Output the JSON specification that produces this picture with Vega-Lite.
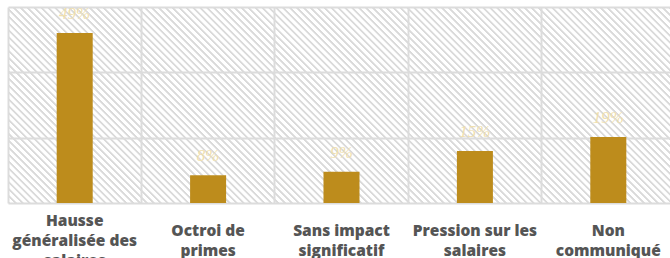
{
  "$schema": "https://vega.github.io/schema/vega-lite/v6.json",
  "width": 667,
  "height": 196,
  "autosize": {"type": "none"},
  "padding": {"left": 8, "top": 7, "right": 0, "bottom": 55},
  "background": "#ffffff",
  "config": {
    "view": {"stroke": null, "fill": {"gradient": "linear", "x1": 0, "y1": 1, "x2": 1.191, "y2": 0.65, "stops": [
{"offset":0,"color":"#dadada"},{"offset":0.002,"color":"#dadada"},{"offset":0.003,"color":"#ffffff"},{"offset":0.007,"color":"#ffffff"},
{"offset":0.008,"color":"#dadada"},{"offset":0.010,"color":"#dadada"},{"offset":0.011,"color":"#ffffff"},{"offset":0.015,"color":"#ffffff"},
{"offset":0.016,"color":"#dadada"},{"offset":0.018,"color":"#dadada"},{"offset":0.019,"color":"#ffffff"},{"offset":0.023,"color":"#ffffff"},
{"offset":0.024,"color":"#dadada"},{"offset":0.026,"color":"#dadada"},{"offset":0.027,"color":"#ffffff"},{"offset":0.031,"color":"#ffffff"},
{"offset":0.032,"color":"#dadada"},{"offset":0.034,"color":"#dadada"},{"offset":0.035,"color":"#ffffff"},{"offset":0.039,"color":"#ffffff"},
{"offset":0.040,"color":"#dadada"},{"offset":0.042,"color":"#dadada"},{"offset":0.043,"color":"#ffffff"},{"offset":0.047,"color":"#ffffff"},
{"offset":0.048,"color":"#dadada"},{"offset":0.050,"color":"#dadada"},{"offset":0.051,"color":"#ffffff"},{"offset":0.055,"color":"#ffffff"},
{"offset":0.056,"color":"#dadada"},{"offset":0.058,"color":"#dadada"},{"offset":0.059,"color":"#ffffff"},{"offset":0.063,"color":"#ffffff"},
{"offset":0.064,"color":"#dadada"},{"offset":0.066,"color":"#dadada"},{"offset":0.067,"color":"#ffffff"},{"offset":0.071,"color":"#ffffff"},
{"offset":0.072,"color":"#dadada"},{"offset":0.074,"color":"#dadada"},{"offset":0.075,"color":"#ffffff"},{"offset":0.079,"color":"#ffffff"},
{"offset":0.080,"color":"#dadada"},{"offset":0.082,"color":"#dadada"},{"offset":0.083,"color":"#ffffff"},{"offset":0.087,"color":"#ffffff"},
{"offset":0.088,"color":"#dadada"},{"offset":0.090,"color":"#dadada"},{"offset":0.091,"color":"#ffffff"},{"offset":0.095,"color":"#ffffff"},
{"offset":0.096,"color":"#dadada"},{"offset":0.098,"color":"#dadada"},{"offset":0.099,"color":"#ffffff"},{"offset":0.103,"color":"#ffffff"},
{"offset":0.104,"color":"#dadada"},{"offset":0.106,"color":"#dadada"},{"offset":0.107,"color":"#ffffff"},{"offset":0.111,"color":"#ffffff"},
{"offset":0.112,"color":"#dadada"},{"offset":0.114,"color":"#dadada"},{"offset":0.115,"color":"#ffffff"},{"offset":0.119,"color":"#ffffff"},
{"offset":0.120,"color":"#dadada"},{"offset":0.122,"color":"#dadada"},{"offset":0.123,"color":"#ffffff"},{"offset":0.127,"color":"#ffffff"},
{"offset":0.128,"color":"#dadada"},{"offset":0.130,"color":"#dadada"},{"offset":0.131,"color":"#ffffff"},{"offset":0.135,"color":"#ffffff"},
{"offset":0.136,"color":"#dadada"},{"offset":0.138,"color":"#dadada"},{"offset":0.139,"color":"#ffffff"},{"offset":0.143,"color":"#ffffff"},
{"offset":0.144,"color":"#dadada"},{"offset":0.146,"color":"#dadada"},{"offset":0.147,"color":"#ffffff"},{"offset":0.151,"color":"#ffffff"},
{"offset":0.152,"color":"#dadada"},{"offset":0.154,"color":"#dadada"},{"offset":0.155,"color":"#ffffff"},{"offset":0.159,"color":"#ffffff"},
{"offset":0.160,"color":"#dadada"},{"offset":0.162,"color":"#dadada"},{"offset":0.163,"color":"#ffffff"},{"offset":0.167,"color":"#ffffff"},
{"offset":0.168,"color":"#dadada"},{"offset":0.170,"color":"#dadada"},{"offset":0.171,"color":"#ffffff"},{"offset":0.175,"color":"#ffffff"},
{"offset":0.176,"color":"#dadada"},{"offset":0.178,"color":"#dadada"},{"offset":0.179,"color":"#ffffff"},{"offset":0.183,"color":"#ffffff"},
{"offset":0.184,"color":"#dadada"},{"offset":0.186,"color":"#dadada"},{"offset":0.187,"color":"#ffffff"},{"offset":0.191,"color":"#ffffff"},
{"offset":0.192,"color":"#dadada"},{"offset":0.194,"color":"#dadada"},{"offset":0.195,"color":"#ffffff"},{"offset":0.199,"color":"#ffffff"},
{"offset":0.200,"color":"#dadada"},{"offset":0.202,"color":"#dadada"},{"offset":0.203,"color":"#ffffff"},{"offset":0.207,"color":"#ffffff"},
{"offset":0.208,"color":"#dadada"},{"offset":0.210,"color":"#dadada"},{"offset":0.211,"color":"#ffffff"},{"offset":0.215,"color":"#ffffff"},
{"offset":0.216,"color":"#dadada"},{"offset":0.218,"color":"#dadada"},{"offset":0.219,"color":"#ffffff"},{"offset":0.223,"color":"#ffffff"},
{"offset":0.224,"color":"#dadada"},{"offset":0.226,"color":"#dadada"},{"offset":0.227,"color":"#ffffff"},{"offset":0.231,"color":"#ffffff"},
{"offset":0.232,"color":"#dadada"},{"offset":0.234,"color":"#dadada"},{"offset":0.235,"color":"#ffffff"},{"offset":0.239,"color":"#ffffff"},
{"offset":0.240,"color":"#dadada"},{"offset":0.242,"color":"#dadada"},{"offset":0.243,"color":"#ffffff"},{"offset":0.247,"color":"#ffffff"},
{"offset":0.248,"color":"#dadada"},{"offset":0.250,"color":"#dadada"},{"offset":0.251,"color":"#ffffff"},{"offset":0.255,"color":"#ffffff"},
{"offset":0.256,"color":"#dadada"},{"offset":0.258,"color":"#dadada"},{"offset":0.259,"color":"#ffffff"},{"offset":0.263,"color":"#ffffff"},
{"offset":0.264,"color":"#dadada"},{"offset":0.266,"color":"#dadada"},{"offset":0.267,"color":"#ffffff"},{"offset":0.271,"color":"#ffffff"},
{"offset":0.272,"color":"#dadada"},{"offset":0.274,"color":"#dadada"},{"offset":0.275,"color":"#ffffff"},{"offset":0.279,"color":"#ffffff"},
{"offset":0.280,"color":"#dadada"},{"offset":0.282,"color":"#dadada"},{"offset":0.283,"color":"#ffffff"},{"offset":0.287,"color":"#ffffff"},
{"offset":0.288,"color":"#dadada"},{"offset":0.290,"color":"#dadada"},{"offset":0.291,"color":"#ffffff"},{"offset":0.295,"color":"#ffffff"},
{"offset":0.296,"color":"#dadada"},{"offset":0.298,"color":"#dadada"},{"offset":0.299,"color":"#ffffff"},{"offset":0.303,"color":"#ffffff"},
{"offset":0.304,"color":"#dadada"},{"offset":0.306,"color":"#dadada"},{"offset":0.307,"color":"#ffffff"},{"offset":0.311,"color":"#ffffff"},
{"offset":0.312,"color":"#dadada"},{"offset":0.314,"color":"#dadada"},{"offset":0.315,"color":"#ffffff"},{"offset":0.319,"color":"#ffffff"},
{"offset":0.320,"color":"#dadada"},{"offset":0.322,"color":"#dadada"},{"offset":0.323,"color":"#ffffff"},{"offset":0.327,"color":"#ffffff"},
{"offset":0.328,"color":"#dadada"},{"offset":0.330,"color":"#dadada"},{"offset":0.331,"color":"#ffffff"},{"offset":0.335,"color":"#ffffff"},
{"offset":0.336,"color":"#dadada"},{"offset":0.338,"color":"#dadada"},{"offset":0.339,"color":"#ffffff"},{"offset":0.343,"color":"#ffffff"},
{"offset":0.344,"color":"#dadada"},{"offset":0.346,"color":"#dadada"},{"offset":0.347,"color":"#ffffff"},{"offset":0.351,"color":"#ffffff"},
{"offset":0.352,"color":"#dadada"},{"offset":0.354,"color":"#dadada"},{"offset":0.355,"color":"#ffffff"},{"offset":0.359,"color":"#ffffff"},
{"offset":0.360,"color":"#dadada"},{"offset":0.362,"color":"#dadada"},{"offset":0.363,"color":"#ffffff"},{"offset":0.367,"color":"#ffffff"},
{"offset":0.368,"color":"#dadada"},{"offset":0.370,"color":"#dadada"},{"offset":0.371,"color":"#ffffff"},{"offset":0.375,"color":"#ffffff"},
{"offset":0.376,"color":"#dadada"},{"offset":0.378,"color":"#dadada"},{"offset":0.379,"color":"#ffffff"},{"offset":0.383,"color":"#ffffff"},
{"offset":0.384,"color":"#dadada"},{"offset":0.386,"color":"#dadada"},{"offset":0.387,"color":"#ffffff"},{"offset":0.391,"color":"#ffffff"},
{"offset":0.392,"color":"#dadada"},{"offset":0.394,"color":"#dadada"},{"offset":0.395,"color":"#ffffff"},{"offset":0.399,"color":"#ffffff"},
{"offset":0.400,"color":"#dadada"},{"offset":0.402,"color":"#dadada"},{"offset":0.403,"color":"#ffffff"},{"offset":0.407,"color":"#ffffff"},
{"offset":0.408,"color":"#dadada"},{"offset":0.410,"color":"#dadada"},{"offset":0.411,"color":"#ffffff"},{"offset":0.415,"color":"#ffffff"},
{"offset":0.416,"color":"#dadada"},{"offset":0.418,"color":"#dadada"},{"offset":0.419,"color":"#ffffff"},{"offset":0.423,"color":"#ffffff"},
{"offset":0.424,"color":"#dadada"},{"offset":0.426,"color":"#dadada"},{"offset":0.427,"color":"#ffffff"},{"offset":0.431,"color":"#ffffff"},
{"offset":0.432,"color":"#dadada"},{"offset":0.434,"color":"#dadada"},{"offset":0.435,"color":"#ffffff"},{"offset":0.439,"color":"#ffffff"},
{"offset":0.440,"color":"#dadada"},{"offset":0.442,"color":"#dadada"},{"offset":0.443,"color":"#ffffff"},{"offset":0.447,"color":"#ffffff"},
{"offset":0.448,"color":"#dadada"},{"offset":0.450,"color":"#dadada"},{"offset":0.451,"color":"#ffffff"},{"offset":0.455,"color":"#ffffff"},
{"offset":0.456,"color":"#dadada"},{"offset":0.458,"color":"#dadada"},{"offset":0.459,"color":"#ffffff"},{"offset":0.463,"color":"#ffffff"},
{"offset":0.464,"color":"#dadada"},{"offset":0.466,"color":"#dadada"},{"offset":0.467,"color":"#ffffff"},{"offset":0.471,"color":"#ffffff"},
{"offset":0.472,"color":"#dadada"},{"offset":0.474,"color":"#dadada"},{"offset":0.475,"color":"#ffffff"},{"offset":0.479,"color":"#ffffff"},
{"offset":0.480,"color":"#dadada"},{"offset":0.482,"color":"#dadada"},{"offset":0.483,"color":"#ffffff"},{"offset":0.487,"color":"#ffffff"},
{"offset":0.488,"color":"#dadada"},{"offset":0.490,"color":"#dadada"},{"offset":0.491,"color":"#ffffff"},{"offset":0.495,"color":"#ffffff"},
{"offset":0.496,"color":"#dadada"},{"offset":0.498,"color":"#dadada"},{"offset":0.499,"color":"#ffffff"},{"offset":0.503,"color":"#ffffff"},
{"offset":0.504,"color":"#dadada"},{"offset":0.506,"color":"#dadada"},{"offset":0.507,"color":"#ffffff"},{"offset":0.511,"color":"#ffffff"},
{"offset":0.512,"color":"#dadada"},{"offset":0.514,"color":"#dadada"},{"offset":0.515,"color":"#ffffff"},{"offset":0.519,"color":"#ffffff"},
{"offset":0.520,"color":"#dadada"},{"offset":0.522,"color":"#dadada"},{"offset":0.523,"color":"#ffffff"},{"offset":0.527,"color":"#ffffff"},
{"offset":0.528,"color":"#dadada"},{"offset":0.530,"color":"#dadada"},{"offset":0.531,"color":"#ffffff"},{"offset":0.535,"color":"#ffffff"},
{"offset":0.536,"color":"#dadada"},{"offset":0.538,"color":"#dadada"},{"offset":0.539,"color":"#ffffff"},{"offset":0.543,"color":"#ffffff"},
{"offset":0.544,"color":"#dadada"},{"offset":0.546,"color":"#dadada"},{"offset":0.547,"color":"#ffffff"},{"offset":0.551,"color":"#ffffff"},
{"offset":0.552,"color":"#dadada"},{"offset":0.554,"color":"#dadada"},{"offset":0.555,"color":"#ffffff"},{"offset":0.559,"color":"#ffffff"},
{"offset":0.560,"color":"#dadada"},{"offset":0.562,"color":"#dadada"},{"offset":0.563,"color":"#ffffff"},{"offset":0.567,"color":"#ffffff"},
{"offset":0.568,"color":"#dadada"},{"offset":0.570,"color":"#dadada"},{"offset":0.571,"color":"#ffffff"},{"offset":0.575,"color":"#ffffff"},
{"offset":0.576,"color":"#dadada"},{"offset":0.578,"color":"#dadada"},{"offset":0.579,"color":"#ffffff"},{"offset":0.583,"color":"#ffffff"},
{"offset":0.584,"color":"#dadada"},{"offset":0.586,"color":"#dadada"},{"offset":0.587,"color":"#ffffff"},{"offset":0.591,"color":"#ffffff"},
{"offset":0.592,"color":"#dadada"},{"offset":0.594,"color":"#dadada"},{"offset":0.595,"color":"#ffffff"},{"offset":0.599,"color":"#ffffff"},
{"offset":0.600,"color":"#dadada"},{"offset":0.602,"color":"#dadada"},{"offset":0.603,"color":"#ffffff"},{"offset":0.607,"color":"#ffffff"},
{"offset":0.608,"color":"#dadada"},{"offset":0.610,"color":"#dadada"},{"offset":0.611,"color":"#ffffff"},{"offset":0.615,"color":"#ffffff"},
{"offset":0.616,"color":"#dadada"},{"offset":0.618,"color":"#dadada"},{"offset":0.619,"color":"#ffffff"},{"offset":0.623,"color":"#ffffff"},
{"offset":0.624,"color":"#dadada"},{"offset":0.626,"color":"#dadada"},{"offset":0.627,"color":"#ffffff"},{"offset":0.631,"color":"#ffffff"},
{"offset":0.632,"color":"#dadada"},{"offset":0.634,"color":"#dadada"},{"offset":0.635,"color":"#ffffff"},{"offset":0.639,"color":"#ffffff"},
{"offset":0.640,"color":"#dadada"},{"offset":0.642,"color":"#dadada"},{"offset":0.643,"color":"#ffffff"},{"offset":0.647,"color":"#ffffff"},
{"offset":0.648,"color":"#dadada"},{"offset":0.650,"color":"#dadada"},{"offset":0.651,"color":"#ffffff"},{"offset":0.655,"color":"#ffffff"},
{"offset":0.656,"color":"#dadada"},{"offset":0.658,"color":"#dadada"},{"offset":0.659,"color":"#ffffff"},{"offset":0.663,"color":"#ffffff"},
{"offset":0.664,"color":"#dadada"},{"offset":0.666,"color":"#dadada"},{"offset":0.667,"color":"#ffffff"},{"offset":0.671,"color":"#ffffff"},
{"offset":0.672,"color":"#dadada"},{"offset":0.674,"color":"#dadada"},{"offset":0.675,"color":"#ffffff"},{"offset":0.679,"color":"#ffffff"},
{"offset":0.680,"color":"#dadada"},{"offset":0.682,"color":"#dadada"},{"offset":0.683,"color":"#ffffff"},{"offset":0.687,"color":"#ffffff"},
{"offset":0.688,"color":"#dadada"},{"offset":0.690,"color":"#dadada"},{"offset":0.691,"color":"#ffffff"},{"offset":0.695,"color":"#ffffff"},
{"offset":0.696,"color":"#dadada"},{"offset":0.698,"color":"#dadada"},{"offset":0.699,"color":"#ffffff"},{"offset":0.703,"color":"#ffffff"},
{"offset":0.704,"color":"#dadada"},{"offset":0.706,"color":"#dadada"},{"offset":0.707,"color":"#ffffff"},{"offset":0.711,"color":"#ffffff"},
{"offset":0.712,"color":"#dadada"},{"offset":0.714,"color":"#dadada"},{"offset":0.715,"color":"#ffffff"},{"offset":0.719,"color":"#ffffff"},
{"offset":0.720,"color":"#dadada"},{"offset":0.722,"color":"#dadada"},{"offset":0.723,"color":"#ffffff"},{"offset":0.727,"color":"#ffffff"},
{"offset":0.728,"color":"#dadada"},{"offset":0.730,"color":"#dadada"},{"offset":0.731,"color":"#ffffff"},{"offset":0.735,"color":"#ffffff"},
{"offset":0.736,"color":"#dadada"},{"offset":0.738,"color":"#dadada"},{"offset":0.739,"color":"#ffffff"},{"offset":0.743,"color":"#ffffff"},
{"offset":0.744,"color":"#dadada"},{"offset":0.746,"color":"#dadada"},{"offset":0.747,"color":"#ffffff"},{"offset":0.751,"color":"#ffffff"},
{"offset":0.752,"color":"#dadada"},{"offset":0.754,"color":"#dadada"},{"offset":0.755,"color":"#ffffff"},{"offset":0.759,"color":"#ffffff"},
{"offset":0.760,"color":"#dadada"},{"offset":0.762,"color":"#dadada"},{"offset":0.763,"color":"#ffffff"},{"offset":0.767,"color":"#ffffff"},
{"offset":0.768,"color":"#dadada"},{"offset":0.770,"color":"#dadada"},{"offset":0.771,"color":"#ffffff"},{"offset":0.775,"color":"#ffffff"},
{"offset":0.776,"color":"#dadada"},{"offset":0.778,"color":"#dadada"},{"offset":0.779,"color":"#ffffff"},{"offset":0.783,"color":"#ffffff"},
{"offset":0.784,"color":"#dadada"},{"offset":0.786,"color":"#dadada"},{"offset":0.787,"color":"#ffffff"},{"offset":0.791,"color":"#ffffff"},
{"offset":0.792,"color":"#dadada"},{"offset":0.794,"color":"#dadada"},{"offset":0.795,"color":"#ffffff"},{"offset":0.799,"color":"#ffffff"},
{"offset":0.800,"color":"#dadada"},{"offset":0.802,"color":"#dadada"},{"offset":0.803,"color":"#ffffff"},{"offset":0.807,"color":"#ffffff"},
{"offset":0.808,"color":"#dadada"},{"offset":0.810,"color":"#dadada"},{"offset":0.811,"color":"#ffffff"},{"offset":0.815,"color":"#ffffff"},
{"offset":0.816,"color":"#dadada"},{"offset":0.818,"color":"#dadada"},{"offset":0.819,"color":"#ffffff"},{"offset":0.823,"color":"#ffffff"},
{"offset":0.824,"color":"#dadada"},{"offset":0.826,"color":"#dadada"},{"offset":0.827,"color":"#ffffff"},{"offset":0.831,"color":"#ffffff"},
{"offset":0.832,"color":"#dadada"},{"offset":0.834,"color":"#dadada"},{"offset":0.835,"color":"#ffffff"},{"offset":0.839,"color":"#ffffff"},
{"offset":0.840,"color":"#dadada"},{"offset":0.842,"color":"#dadada"},{"offset":0.843,"color":"#ffffff"},{"offset":0.847,"color":"#ffffff"},
{"offset":0.848,"color":"#dadada"},{"offset":0.850,"color":"#dadada"},{"offset":0.851,"color":"#ffffff"},{"offset":0.855,"color":"#ffffff"},
{"offset":0.856,"color":"#dadada"},{"offset":0.858,"color":"#dadada"},{"offset":0.859,"color":"#ffffff"},{"offset":0.863,"color":"#ffffff"},
{"offset":0.864,"color":"#dadada"},{"offset":0.866,"color":"#dadada"},{"offset":0.867,"color":"#ffffff"},{"offset":0.871,"color":"#ffffff"},
{"offset":0.872,"color":"#dadada"},{"offset":0.874,"color":"#dadada"},{"offset":0.875,"color":"#ffffff"},{"offset":0.879,"color":"#ffffff"},
{"offset":0.880,"color":"#dadada"},{"offset":0.882,"color":"#dadada"},{"offset":0.883,"color":"#ffffff"},{"offset":0.887,"color":"#ffffff"},
{"offset":0.888,"color":"#dadada"},{"offset":0.890,"color":"#dadada"},{"offset":0.891,"color":"#ffffff"},{"offset":0.895,"color":"#ffffff"},
{"offset":0.896,"color":"#dadada"},{"offset":0.898,"color":"#dadada"},{"offset":0.899,"color":"#ffffff"},{"offset":0.903,"color":"#ffffff"},
{"offset":0.904,"color":"#dadada"},{"offset":0.906,"color":"#dadada"},{"offset":0.907,"color":"#ffffff"},{"offset":0.911,"color":"#ffffff"},
{"offset":0.912,"color":"#dadada"},{"offset":0.914,"color":"#dadada"},{"offset":0.915,"color":"#ffffff"},{"offset":0.919,"color":"#ffffff"},
{"offset":0.920,"color":"#dadada"},{"offset":0.922,"color":"#dadada"},{"offset":0.923,"color":"#ffffff"},{"offset":0.927,"color":"#ffffff"},
{"offset":0.928,"color":"#dadada"},{"offset":0.930,"color":"#dadada"},{"offset":0.931,"color":"#ffffff"},{"offset":0.935,"color":"#ffffff"},
{"offset":0.936,"color":"#dadada"},{"offset":0.938,"color":"#dadada"},{"offset":0.939,"color":"#ffffff"},{"offset":0.943,"color":"#ffffff"},
{"offset":0.944,"color":"#dadada"},{"offset":0.946,"color":"#dadada"},{"offset":0.947,"color":"#ffffff"},{"offset":0.951,"color":"#ffffff"},
{"offset":0.952,"color":"#dadada"},{"offset":0.954,"color":"#dadada"},{"offset":0.955,"color":"#ffffff"},{"offset":0.959,"color":"#ffffff"},
{"offset":0.960,"color":"#dadada"},{"offset":0.962,"color":"#dadada"},{"offset":0.963,"color":"#ffffff"},{"offset":0.967,"color":"#ffffff"},
{"offset":0.968,"color":"#dadada"},{"offset":0.970,"color":"#dadada"},{"offset":0.971,"color":"#ffffff"},{"offset":0.975,"color":"#ffffff"},
{"offset":0.976,"color":"#dadada"},{"offset":0.978,"color":"#dadada"},{"offset":0.979,"color":"#ffffff"},{"offset":0.983,"color":"#ffffff"},
{"offset":0.984,"color":"#dadada"},{"offset":0.986,"color":"#dadada"},{"offset":0.987,"color":"#ffffff"},{"offset":0.991,"color":"#ffffff"},
{"offset":0.992,"color":"#dadada"},{"offset":0.994,"color":"#dadada"},{"offset":0.995,"color":"#ffffff"},{"offset":0.999,"color":"#ffffff"},
{"offset":1,"color":"#dadada"}
    ]}},
    "font": "Open Sans"
  },
  "data": {
    "values": [
      {"categorie": "Hausse\ngénéralisée des\nsalaires", "pct": 49},
      {"categorie": "Octroi de\nprimes", "pct": 8},
      {"categorie": "Sans impact\nsignificatif", "pct": 9},
      {"categorie": "Pression sur les\nsalaires", "pct": 15},
      {"categorie": "Non\ncommuniqué", "pct": 19}
    ]
  },
  "encoding": {
    "x": {
      "field": "categorie",
      "type": "nominal",
      "sort": null,
      "scale": {"paddingInner": 0, "paddingOuter": 0},
      "axis": {
        "title": null,
        "labelAngle": 0,
        "labelExpr": "split(datum.value, '\\n')",
        "labelFont": "Open Sans",
        "labelFontWeight": 800,
        "labelFontSize": 15.5,
        "labelColor": "#555555",
        "labelLineHeight": 20,
        "labelBaseline": "middle",
        "labelPadding": {"condition": {"test": "indexof(datum.value, 'Hausse') == 0", "value": 17}, "value": 27},
        "labelLimit": 0,
        "ticks": false,
        "tickSize": 0,
        "domain": false,
        "grid": true,
        "bandPosition": 0,
        "gridColor": "#dcdcdc",
        "gridWidth": 2
      }
    },
    "y": {
      "field": "pct",
      "type": "quantitative",
      "scale": {"domain": [0, 56.5], "nice": false, "zero": true},
      "axis": {
        "title": null,
        "labels": false,
        "ticks": false,
        "domain": false,
        "values": [0, 18.83, 37.67, 56.5],
        "gridColor": "#dcdcdc",
        "gridWidth": 2
      }
    }
  },
  "layer": [
    {
      "mark": {"type": "bar", "color": "#bd8c1c", "width": {"band": 0.27}}
    },
    {
      "mark": {
        "type": "text",
        "baseline": "bottom",
        "dy": -10,
        "font": "Liberation Serif",
        "fontStyle": "italic",
        "fontSize": 17,
        "color": "#f0dfae"
      },
      "encoding": {
        "text": {"field": "lbl", "type": "nominal"}
      }
    }
  ],
  "transform": [
    {"calculate": "datum.pct + '%'", "as": "lbl"}
  ]
}
